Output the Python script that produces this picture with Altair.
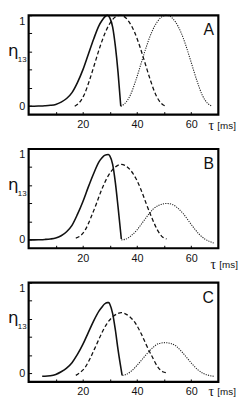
import altair as alt
import pandas as pd

# ---- axis values ----
tau_ticks = [10, 20, 30, 40, 50, 60]
tau_labels = [20, 40, 60]
eta_ticks = [0, 0.2, 0.4, 0.6, 0.8, 1]
eta_labels = [0, 1]
panel_names = ["A", "B", "C"]

# ---- panel A ----
a_solid_tau = [0, 2, 4, 6, 8, 10, 12, 14, 16, 18, 20, 22, 24, 26, 27, 28, 29, 30, 31, 32, 33, 34]
a_solid_eta = [0.0, 0.0, 0.002, 0.005, 0.01, 0.02, 0.045, 0.085, 0.15, 0.26, 0.40, 0.57, 0.74, 0.89, 0.94, 0.98, 1.0, 0.97, 0.87, 0.66, 0.37, 0.0]
a_dash_tau = [17, 18.4, 20.4, 22.4, 24.4, 26.4, 28.4, 30.4, 32.4, 33.7, 35, 37, 39, 41, 43, 45, 47, 49, 50.6]
a_dash_eta = [0.0, 0.03, 0.12, 0.28, 0.47, 0.66, 0.82, 0.93, 0.99, 1.0, 0.99, 0.93, 0.82, 0.66, 0.47, 0.28, 0.12, 0.03, 0.0]
a_dot_tau = [34, 35.5, 37.5, 39.5, 41.5, 43.5, 45.5, 47.5, 49.5, 50.8, 52.1, 54.1, 56.1, 58.1, 60.1, 62.1, 64.1, 66.1, 67.7]
a_dot_eta = [0.0, 0.03, 0.12, 0.28, 0.47, 0.66, 0.82, 0.93, 0.99, 1.0, 0.99, 0.93, 0.82, 0.66, 0.47, 0.28, 0.12, 0.03, 0.0]

# ---- panel B ----
b_solid_tau = [0, 2, 4, 6, 8, 10, 12, 14, 16, 18, 20, 22, 24, 26, 27, 28, 29.4, 30, 31, 32, 33, 34.2]
b_solid_eta = [0.0, 0.0, 0.002, 0.005, 0.01, 0.02, 0.045, 0.09, 0.16, 0.28, 0.42, 0.58, 0.73, 0.86, 0.90, 0.93, 0.94, 0.92, 0.83, 0.63, 0.36, 0.01]
b_dash_tau = [17.4, 18.9, 20.9, 22.9, 24.9, 26.9, 28.9, 30.9, 32.9, 34.2, 35.5, 37.5, 39.5, 41.5, 43.5, 45.5, 47.5, 49.5, 50.9]
b_dash_eta = [0.02, 0.04, 0.11, 0.24, 0.39, 0.55, 0.68, 0.77, 0.82, 0.83, 0.82, 0.77, 0.68, 0.55, 0.39, 0.24, 0.11, 0.03, 0.01]
b_dot_tau = [34.2, 36, 38, 40, 42, 44, 46, 48, 50.9, 53, 55, 57, 59, 61, 63, 65, 67, 68.3]
b_dot_eta = [0.0, 0.01, 0.05, 0.11, 0.19, 0.27, 0.34, 0.38, 0.40, 0.39, 0.35, 0.29, 0.21, 0.13, 0.06, 0.01, -0.02, -0.035]

# ---- panel C ----
c_solid_tau = [5, 6, 8, 10, 12, 14, 16, 18, 20, 22, 24, 26, 27, 28, 29, 29.6, 30, 31, 32, 33, 34.5]
c_solid_eta = [-0.03, -0.03, -0.025, -0.01, 0.02, 0.06, 0.12, 0.21, 0.32, 0.45, 0.58, 0.69, 0.73, 0.765, 0.78, 0.78, 0.76, 0.66, 0.48, 0.26, -0.02]
c_dash_tau = [17.4, 18.9, 20.9, 22.9, 24.9, 26.9, 28.9, 30.9, 32.9, 34.2, 35.5, 37.5, 39.5, 41.5, 43.5, 45.5, 47.5, 49.5, 50.9]
c_dash_eta = [-0.02, 0.01, 0.07, 0.18, 0.31, 0.44, 0.55, 0.62, 0.66, 0.67, 0.66, 0.62, 0.55, 0.44, 0.31, 0.19, 0.08, 0.02, 0.01]
c_dot_tau = [34.6, 36, 38, 40, 42, 44, 46, 48, 50.4, 52.5, 54.5, 56.5, 58.5, 60.5, 62.5, 64.5, 66.5, 68.3]
c_dot_eta = [-0.02, -0.01, 0.03, 0.09, 0.16, 0.23, 0.29, 0.33, 0.34, 0.33, 0.30, 0.24, 0.17, 0.10, 0.04, 0.0, -0.02, -0.03]

W, H = 193, 101
INK = "#000000"
x_label_expr = "indexof([" + ",".join(str(v) for v in tau_labels) + "], datum.value) >= 0 ? datum.label : ''"
y_label_expr = "indexof([" + ",".join(str(v) for v in eta_labels) + "], datum.value) >= 0 ? format(datum.value, 'd') : ''"


def panel(letter, solid, dash, dot, tau_x, tau_y):
    xs = alt.Scale(domain=[0, 70], nice=False, zero=False)
    ys = alt.Scale(domain=[-0.092, 1.0], nice=False, zero=False)
    x_enc = alt.X("tau:Q", scale=xs,
                  axis=alt.Axis(values=tau_ticks, labelExpr=x_label_expr, domain=False, grid=False,
                                ticks=True, tickSize=3, offset=-3, tickColor=INK, tickWidth=1,
                                labelPadding=4, labelFontSize=11, title=None))
    y_enc = alt.Y("eta:Q", scale=ys,
                  axis=alt.Axis(values=eta_ticks, labelExpr=y_label_expr, domain=False, grid=False,
                                ticks=True, tickSize=3, offset=-3, tickColor=INK, tickWidth=1,
                                labelPadding=4, labelFontSize=11, labelFlush=True, title=None))

    def line(t, e, **kw):
        return alt.Chart(pd.DataFrame({"tau": t, "eta": e})).mark_line(
            interpolate="monotone", **kw).encode(x=x_enc, y=y_enc)

    def txt(s, x, y, size, font="Liberation Sans", align="left"):
        return alt.Chart(pd.DataFrame({"s": [s]})).mark_text(
            align=align, baseline="alphabetic", fontSize=size, font=font, color="#111111"
        ).encode(x=alt.value(x), y=alt.value(y), text="s:N")

    frame = alt.Chart(pd.DataFrame({"s": [letter]})).mark_rect(
        fillOpacity=0, stroke=INK, strokeWidth=2.2
    ).encode(x=alt.value(0), x2=alt.value(W), y=alt.value(0), y2=alt.value(H))

    return alt.layer(
        line(*dot, color="#222222", strokeWidth=1.1, strokeDash=[1.2, 1.2]),
        line(*dash, color="#111111", strokeWidth=1.3, strokeDash=[4, 2.5]),
        line(*solid, color="#111111", strokeWidth=1.6),
        frame,
        txt(letter, W - 4.5, 20.5, 16, align="right"),
        txt("η", -21, 41.5, 17, font="DejaVu Sans"),
        txt("13", -11, 47.5, 8),
        txt("τ", tau_x, tau_y, 14, font="Liberation Serif"),
        txt("[ms]", tau_x + 9, tau_y - 1, 10),
    ).properties(width=W, height=H)


pA = panel(panel_names[0], (a_solid_tau, a_solid_eta), (a_dash_tau, a_dash_eta), (a_dot_tau, a_dot_eta), W - 10, H + 16)
pB = panel(panel_names[1], (b_solid_tau, b_solid_eta), (b_dash_tau, b_dash_eta), (b_dot_tau, b_dot_eta), W - 8, H + 21)
pC = panel(panel_names[2], (c_solid_tau, c_solid_eta), (c_dash_tau, c_dash_eta), (c_dot_tau, c_dot_eta), W - 10, H + 14)

chart = alt.vconcat(pA, pB, pC, spacing=35, bounds="flush").properties(
    padding={"left": 0, "top": 0, "right": 0, "bottom": 0},
    background="white",
).configure_view(stroke=None).configure_axis(
    labelColor="#111111", labelFont="Liberation Sans"
)

chart.save("out.html", embed_options={"renderer": "svg", "actions": False})
